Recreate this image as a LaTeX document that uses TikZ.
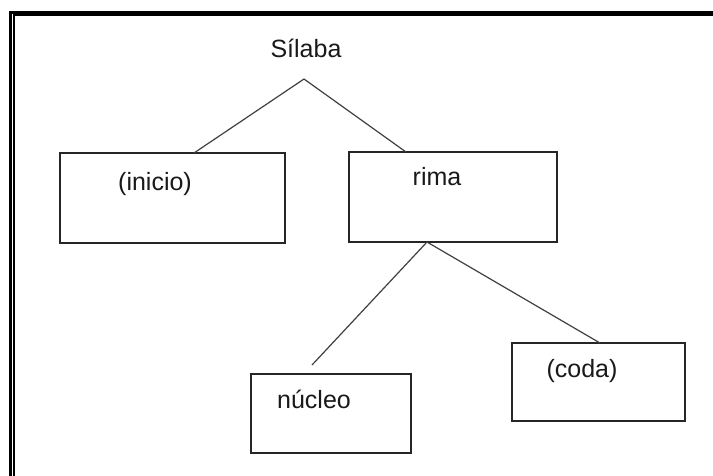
\documentclass[tikz,border=0pt]{standalone}
\usepackage{fontspec}
\setmainfont{Liberation Sans}
\begin{document}
\begin{tikzpicture}[x=1pt,y=-1pt,
  box/.style={draw=black!85,line width=1.5pt,rectangle,inner sep=0pt},
  lbl/.style={anchor=base,inner sep=0pt,font=\fontsize{25}{30}\selectfont,text=black!90},
  conn/.style={draw=black!75,line width=1.2pt}]
\useasboundingbox (0,0) rectangle (713,475);
\fill[white] (0,0) rectangle (713,475);
% frame
\draw[line width=3pt,black] (10.5,480) -- (10.5,12) -- (720,12);
\draw[line width=2pt,black] (14,480) -- (14,15) -- (720,15);
% boxes
\node[box,minimum width=225pt,minimum height=90pt] (inicio) at (172.5,198) {};
\node[box,minimum width=208pt,minimum height=90pt] (rima) at (453,197) {};
\node[box,minimum width=160pt,minimum height=79pt] (nucleo) at (331,413.5) {};
\node[box,minimum width=173pt,minimum height=78pt] (coda) at (598.5,382) {};
% labels
\node[lbl] (tsil) at (306,57) {Sílaba};
\node[lbl] (tini) at (155,190) {(inicio)};
\node[lbl] (trim) at (437,185) {rima};
\node[lbl] (tnuc) at (314,408) {núcleo};
\node[lbl] (tcod) at (582,377) {(coda)};
% connector points
\coordinate (apex) at (304,79);
\coordinate (iniT) at (194,153);
\coordinate (rimT) at (406,152);
\coordinate (rimB) at (427,242);
\coordinate (nucT) at (312,365);
\coordinate (codT) at (600,343);
\draw[conn] (iniT) -- (apex) -- (rimT);
\draw[conn] (nucT) -- (rimB) -- (codT);
\end{tikzpicture}
\end{document}
